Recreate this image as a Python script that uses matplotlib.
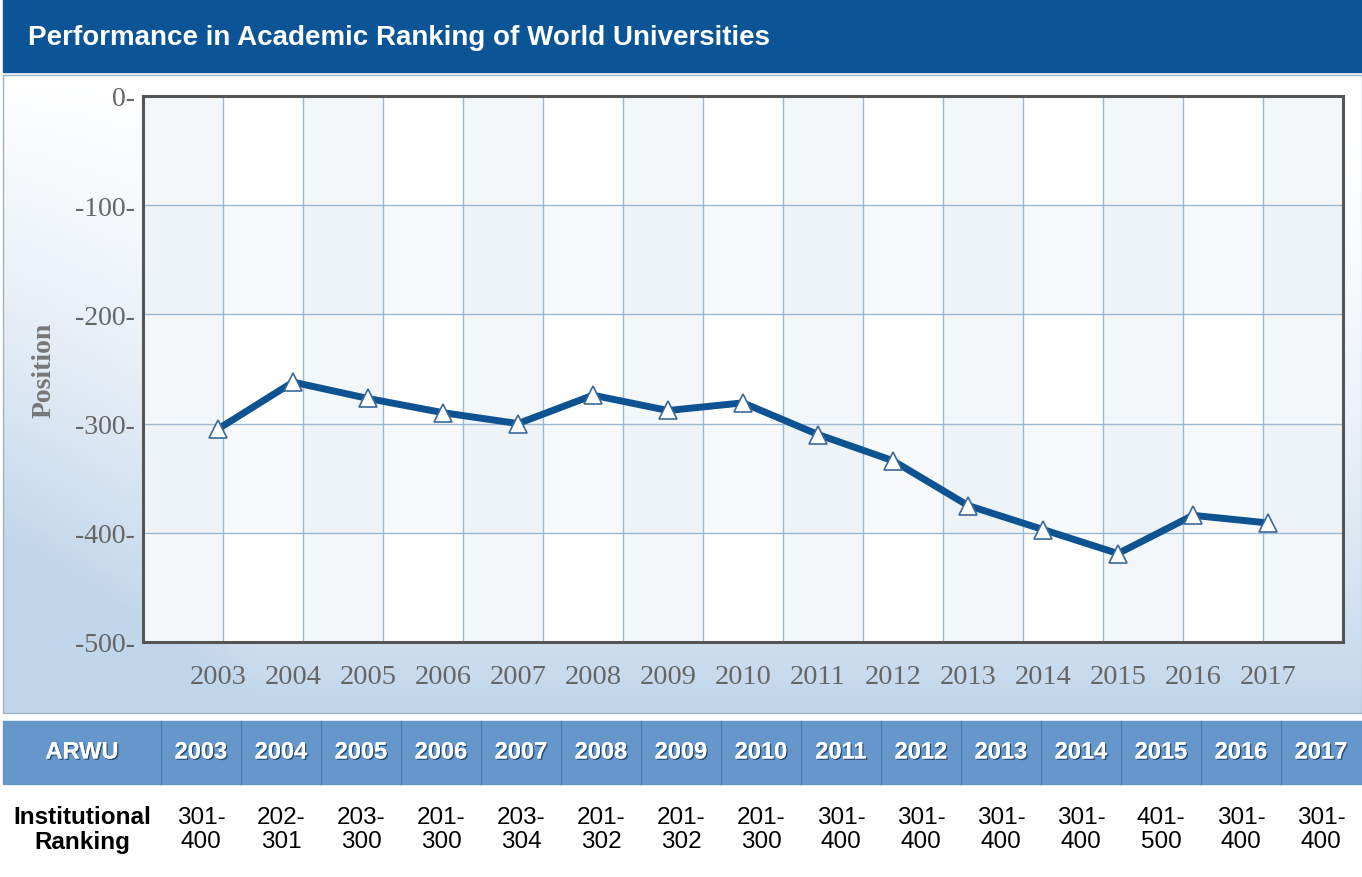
import numpy as np
import matplotlib.pyplot as plt
import matplotlib.patheffects as pe
from matplotlib.patches import Rectangle

years = [2003, 2004, 2005, 2006, 2007, 2008, 2009, 2010,
         2011, 2012, 2013, 2014, 2015, 2016, 2017]
position = [-305, -262, -277, -290, -300, -274, -288, -281,
            -310, -334, -375, -397, -419, -384, -391]
ranking = ['301-\n400', '202-\n301', '203-\n300', '201-\n300', '203-\n304',
           '201-\n302', '201-\n302', '201-\n300', '301-\n400', '301-\n400',
           '301-\n400', '301-\n400', '401-\n500', '301-\n400', '301-\n400']
yticks = [0, -100, -200, -300, -400, -500]

W, H = 1362, 878
fig = plt.figure(figsize=(W / 100, H / 100), dpi=100)
fig.patch.set_facecolor('white')

# background layer in pixel coordinates
bg = fig.add_axes([0, 0, 1, 1])
bg.set_xlim(0, W)
bg.set_ylim(H, 0)
bg.axis('off')

# title bar
bg.add_patch(Rectangle((3, 0), W - 3, 73, color='#0b5495', zorder=1))
bg.text(28, 38, 'Performance in Academic Ranking of World Universities',
        color='white', fontsize=20, fontweight='bold', family='Liberation Sans',
        va='center', ha='left', zorder=2)

# chart panel gradient (white at top, light blue towards bottom and left)
px0, px1, py0, py1 = 3, W, 76, 714
gx = np.linspace(0, 1, 300)
gy = np.linspace(0, 1, 200)
X, Y = np.meshgrid(gx, gy)
left = np.clip(1 - X * (px1 - px0) / 260, 0, 1)
f = np.clip(Y ** 1.8 + 0.55 * left * Y ** 0.8, 0, 1)
c0 = np.array([1.0, 1.0, 1.0])
c1 = np.array([0.76, 0.84, 0.92])
img = c0 + (c1 - c0) * f[..., None]
bg.imshow(img, extent=(px0, px1, py1, py0), aspect='auto', zorder=0)
bg.add_patch(Rectangle((px0, py0), px1 - px0, py1 - py0, fill=False,
                       edgecolor='#9fb3c6', lw=1, zorder=1))

# table header
bg.add_patch(Rectangle((3, 722), W - 3, 63, color='#6597ca', zorder=1))
shadow = [pe.withSimplePatchShadow(offset=(1, -1), shadow_rgbFace='#24466c', alpha=0.9),
          pe.Normal()]
bg.text(82, 753, 'ARWU', color='white', fontsize=17, fontweight='bold',
        family='Liberation Sans', ha='center', va='center', zorder=3,
        path_effects=shadow)
bg.text(82, 830, 'Institutional\nRanking', color='black', fontsize=17.5,
        fontweight='bold', family='Liberation Sans', ha='center', va='center',
        linespacing=1.1, zorder=3)
for i, (yr, rk) in enumerate(zip(years, ranking)):
    x0 = 161 + 80 * i
    bg.plot([x0, x0], [722, 785], color='#4d7fb2', lw=1, zorder=2)
    bg.text(x0 + 40, 753, str(yr), color='white', fontsize=17, fontweight='bold',
            family='Liberation Sans', ha='center', va='center', zorder=3,
            path_effects=shadow)
    bg.text(x0 + 40, 830, rk, color='black', fontsize=17.5,
            family='Liberation Sans', ha='center', va='center',
            linespacing=1.1, zorder=3)

# main chart
ax = fig.add_axes([143 / W, (H - 643) / H, 1200 / W, 546 / H])
ax.set_facecolor('white')
ax.set_xlim(2002, 2018)
ax.set_ylim(-500, 0)

# alternating column and row bands
edges = np.linspace(2002, 2018, 16)
for k in range(0, 15, 2):
    ax.axvspan(edges[k], edges[k + 1], color='#dbe6f0', alpha=0.3, lw=0, zorder=0)
for lo, hi in [(-200, -100), (-400, -300)]:
    ax.axhspan(lo, hi, color='#dbe6f0', alpha=0.22, lw=0, zorder=0)
for e in edges[1:-1]:
    ax.axvline(e, color='#9cb7d2', lw=1, zorder=1)
for t in [-100, -200, -300, -400]:
    ax.axhline(t, color='#9cb7d2', lw=1, zorder=1)

ax.plot(years, position, color='#0e5391', lw=5, zorder=3,
        marker='^', markersize=13, markerfacecolor='white',
        markeredgecolor='#3b6a95', markeredgewidth=1.2)

for s in ax.spines.values():
    s.set_color('#555555')
    s.set_linewidth(2.2)

ax.set_xticks(years)
ax.set_xticklabels([str(y) for y in years], family='Liberation Serif',
                   fontsize=20.5, color='#666666')
ax.set_yticks(yticks)
ax.set_yticklabels([f'{t}-' for t in yticks], family='Liberation Serif',
                   fontsize=20, color='#666666')
ax.tick_params(axis='x', length=0, pad=16)
ax.tick_params(axis='y', length=0, pad=6)
ax.set_ylabel('Position', family='Liberation Serif', fontweight='bold',
              fontsize=20, color='#777777', labelpad=13)

fig.savefig('out.png', dpi=100)
